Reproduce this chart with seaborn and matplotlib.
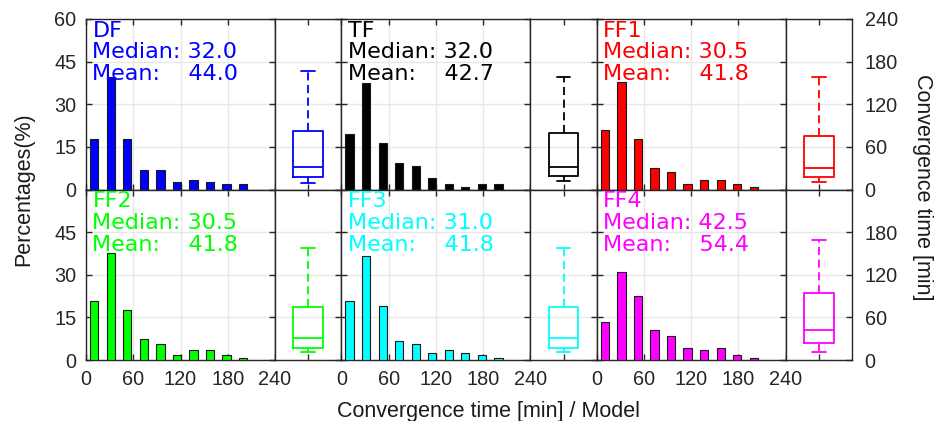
import matplotlib
matplotlib.use("Agg")
import matplotlib.pyplot as plt
import seaborn as sns
import numpy as np
import pandas as pd

# ---------------- data ----------------
models = ["DF", "TF", "FF1", "FF2", "FF3", "FF4"]
colors = ["#0000ff", "#000000", "#ff0000", "#00ff00", "#00ffff", "#ff00ff"]
bin_centers = [10.5, 31.5, 52.5, 73.5, 94.5, 115.5, 136.5, 157.5, 178.5, 199.5]

pct_DF = [17.7, 39.7, 17.7, 6.7, 6.7, 2.6, 3.4, 2.6, 1.8, 1.8]
pct_TF = [19.7, 37.6, 16.5, 9.2, 8.3, 4.2, 1.8, 0.9, 1.8, 1.8]
pct_FF1 = [21.0, 37.7, 17.6, 7.6, 6.0, 1.8, 3.4, 3.4, 1.8, 0.8]
pct_FF2 = [20.8, 37.5, 17.5, 7.5, 5.8, 1.7, 3.4, 3.4, 1.7, 0.8]
pct_FF3 = [20.8, 36.5, 19.1, 6.7, 5.8, 2.6, 3.4, 2.6, 1.7, 0.8]
pct_FF4 = [13.3, 30.8, 22.4, 10.7, 8.4, 4.2, 3.4, 4.2, 1.7, 0.8]
percentages = [pct_DF, pct_TF, pct_FF1, pct_FF2, pct_FF3, pct_FF4]

medians = [32.0, 32.0, 30.5, 30.5, 31.0, 42.5]
means = [44.0, 42.7, 41.8, 41.8, 41.8, 54.4]
q1s = [17.8, 18.8, 17.8, 17.3, 17.3, 23.3]
q3s = [82.5, 79.7, 75.5, 75.2, 75.2, 94.3]
whislos = [9.4, 11.3, 10.8, 10.7, 10.7, 11.2]
whishis = [167.0, 158.5, 158.0, 157.3, 157.3, 168.5]

x_ticks = [0, 60, 120, 180, 240]
pct_ticks = [0, 15, 30, 45, 60]
time_ticks = [0, 60, 120, 180, 240]

# ---------------- style ----------------
sns.set_style("white")
plt.rcParams["font.family"] = ["Liberation Sans", "DejaVu Sans"]
plt.rcParams["axes.edgecolor"] = "#262626"
plt.rcParams["axes.linewidth"] = 1.0
tick_col = "#262626"
grid_col = "#e8e8e8"

W, H = 936, 421
fig = plt.figure(figsize=(W / 100, H / 100), dpi=100)


def px_axes(x0, y0, w, h):
    return fig.add_axes([x0 / W, 1 - (y0 + h) / H, w / W, h / H])


left, right = 86.0, 852.0
tops = [19.0, 189.5]
row_h = 170.5
group_w = (right - left) / 3
hist_w = 189.0
box_w = group_w - hist_w

for i, m in enumerate(models):
    row, col = divmod(i, 3)
    gx = left + col * group_w
    gy = tops[row]
    c = colors[i]

    # ---- histogram panel ----
    axh = px_axes(gx, gy, hist_w, row_h)
    df = pd.DataFrame({"t": bin_centers, "p": percentages[i]})
    sns.barplot(data=df, x="t", y="p", native_scale=True, width=0.5,
                color=c, saturation=1, edgecolor="#1a1a1a", linewidth=0.8,
                ax=axh, zorder=3)
    axh.set_xlim(0, 240)
    axh.set_ylim(0, 60)
    axh.set_xticks(x_ticks)
    axh.set_yticks(pct_ticks)
    axh.set_xlabel("")
    axh.set_ylabel("")
    axh.grid(True, color=grid_col, linewidth=1.0, zorder=0)
    axh.set_axisbelow(True)
    axh.tick_params(direction="in", length=4, width=1, colors=tick_col,
                    top=True, bottom=True, left=True, right=True,
                    labelsize=14.3, pad=7)
    if row == 1:
        axh.set_xticklabels([str(v) for v in x_ticks])
    else:
        axh.set_xticklabels([])
    if col == 0:
        labs = [str(v) for v in pct_ticks]
        if row == 1:
            labs[-1] = ""
        axh.set_yticklabels(labs)
    else:
        axh.set_yticklabels([])
    for sp in axh.spines.values():
        sp.set_visible(True)
        sp.set_color("#262626")

    # annotation text
    lines = [m, "Median: %.1f" % medians[i], "Mean:    %.1f" % means[i]]
    for k, s in enumerate(lines):
        yb = 17.7 + 21.7 * k
        axh.text(6.5 / hist_w, 1 - yb / row_h, s, transform=axh.transAxes,
                 ha="left", va="baseline", color=c, fontsize=16,
                 family=["DejaVu Sans"], zorder=5)

    # ---- box panel ----
    axb = px_axes(gx + hist_w, gy, box_w, row_h)
    stats = [{"med": medians[i], "q1": q1s[i], "q3": q3s[i],
              "whislo": whislos[i], "whishi": whishis[i], "fliers": []}]
    lp = dict(color=c, linewidth=1.3)
    axb.bxp(stats, positions=[0], widths=0.45, capwidths=0.21,
            showfliers=False,
            boxprops=lp, medianprops=lp, capprops=lp,
            whiskerprops=dict(color=c, linewidth=1.3, linestyle=(0, (4.5, 2.5))))
    axb.set_xlim(-0.5, 0.5)
    axb.set_ylim(0, 240)
    axb.set_xticks([0])
    axb.set_xticklabels([])
    axb.set_yticks(time_ticks)
    axb.yaxis.grid(True, color=grid_col, linewidth=1.0)
    axb.xaxis.grid(False)
    axb.set_axisbelow(True)
    axb.tick_params(direction="in", length=4, width=1, colors=tick_col,
                    top=True, bottom=True, left=False, right=True,
                    labelleft=False, labelsize=14.3, pad=9)
    if col == 2:
        labs = [str(v) for v in time_ticks]
        if row == 1:
            labs[-1] = ""
        axb.set_yticklabels(labs)
        axb.tick_params(labelright=True)
    else:
        axb.set_yticklabels([])
    for sp in axb.spines.values():
        sp.set_visible(True)
        sp.set_color("#262626")

fig.text(24 / W, 1 - 189.5 / H, "Percentages(%)", rotation=90,
         ha="center", va="center", fontsize=15.5, color="#1a1a1a")
fig.text(488 / W, 1 - 411 / H, "Convergence time [min] / Model",
         ha="center", va="center", fontsize=15.5, color="#1a1a1a")
fig.text(922 / W, 1 - 187 / H, "Convergence time [min]", rotation=270,
         ha="center", va="center", fontsize=15.5, color="#1a1a1a")

fig.savefig("out.png", dpi=100)
